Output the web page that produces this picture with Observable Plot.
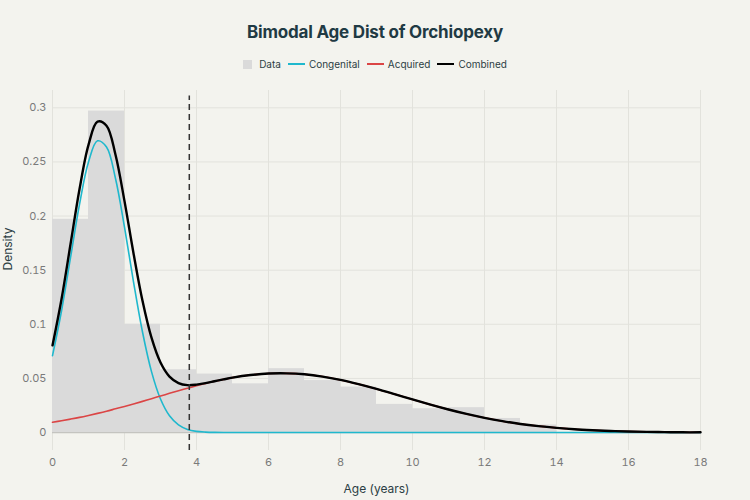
<!DOCTYPE html>
<html>
<head>
<meta charset="utf-8">
<script src="https://cdn.jsdelivr.net/npm/d3@7"></script>
<script src="https://cdn.jsdelivr.net/npm/@observablehq/plot@0.6"></script>
<style>
  html, body { margin: 0; padding: 0; background: #f3f3ee; }
  body { width: 750px; height: 500px; overflow: hidden; font-family: Inter, "Open Sans", sans-serif; }
  #header { position: relative; height: 80px; }
  #title { position: absolute; top: 22px; left: 0; width: 750px; text-align: center;
           font-size: 17px; font-weight: 700; color: #1f3a44; letter-spacing: -0.2px; }
  #legend { position: absolute; top: 58px; left: 0; width: 750px; display: flex; justify-content: center;
            align-items: center; font-size: 10px; color: #2c3e44; }
  .item { display: flex; align-items: center; margin: 0 3.5px; }
  .swatch { width: 9px; height: 9px; background: #dadada; margin-right: 7px; }
  .line { width: 17px; height: 0; margin-right: 4px; }
</style>
</head>
<body>
<div id="header">
  <div id="title">Bimodal Age Dist of Orchiopexy</div>
  <div id="legend"></div>
</div>
<div id="chart"></div>
<script>
// Histogram of ages at orchiopexy (density per one-year bin)
const binStart   = [0, 1, 2, 3, 4, 5, 6, 7, 8, 9, 10, 11, 12, 13];
const binEnd     = [1, 2, 3, 4, 5, 6, 7, 8, 9, 10, 11, 12, 13, 14];
const binDensity = [0.197, 0.297, 0.100, 0.058, 0.054, 0.045, 0.059, 0.048, 0.042, 0.026, 0.022, 0.023, 0.013, 0.007];

// Fitted component curves, sampled along age
const ages = [0, 0.25, 0.5, 0.75, 1, 1.25, 1.5, 1.75, 2, 2.25, 2.5, 2.75, 3, 3.25, 3.5, 3.75, 4, 4.25, 4.5, 4.75, 5,
              5.5, 6, 6.5, 7, 7.5, 8, 8.5, 9, 9.5, 10, 10.5, 11, 11.5, 12, 12.5, 13, 13.5, 14, 14.5, 15, 15.5, 16, 16.5, 17, 17.5, 18];
const congenital = [0.0710, 0.1123, 0.1615, 0.2108, 0.2500, 0.2695, 0.2638, 0.2347, 0.1897, 0.1393, 0.0929, 0.0563, 0.0310, 0.0155, 0.0071, 0.0029, 0.0011, 0.0004, 0.0001, 0, 0,
                    0, 0, 0, 0, 0, 0, 0, 0, 0, 0, 0, 0, 0, 0, 0, 0, 0, 0, 0, 0, 0, 0, 0, 0, 0, 0];
const acquired = [0.0095, 0.0109, 0.0124, 0.0140, 0.0158, 0.0177, 0.0197, 0.0219, 0.0241, 0.0264, 0.0288, 0.0313, 0.0337, 0.0362, 0.0386, 0.0409, 0.0432, 0.0453, 0.0473, 0.0491, 0.0507,
                  0.0531, 0.0545, 0.0547, 0.0538, 0.0517, 0.0486, 0.0447, 0.0403, 0.0355, 0.0306, 0.0258, 0.0213, 0.0172, 0.0136, 0.0105, 0.0079, 0.0059, 0.0043, 0.0030, 0.0021, 0.0014, 0.0009, 0.0006, 0.0004, 0.0002, 0.0002];
const combined = [0.0805, 0.1232, 0.1739, 0.2248, 0.2658, 0.2872, 0.2835, 0.2566, 0.2138, 0.1657, 0.1217, 0.0876, 0.0647, 0.0517, 0.0457, 0.0438, 0.0443, 0.0457, 0.0474, 0.0491, 0.0507,
                  0.0531, 0.0545, 0.0547, 0.0538, 0.0517, 0.0486, 0.0447, 0.0403, 0.0355, 0.0306, 0.0258, 0.0213, 0.0172, 0.0136, 0.0105, 0.0079, 0.0059, 0.0043, 0.0030, 0.0021, 0.0014, 0.0009, 0.0006, 0.0004, 0.0002, 0.0002];

// Age separating the two modes
const cutoffAge = 3.8;

const xTicks = [0, 2, 4, 6, 8, 10, 12, 14, 16, 18];
const yTicks = [0, 0.05, 0.1, 0.15, 0.2, 0.25, 0.3];

const seriesNames  = ["Data", "Congenital", "Acquired", "Combined"];
const seriesColors = ["#dadada", "#1fb8cd", "#db4545", "#000000"];

const bins = binStart.map((s, i) => ({x1: s, x2: binEnd[i], y: binDensity[i]}));
const curve = key => ages.map((a, i) => ({age: a, v: key[i]}));

// Legend
const legend = document.getElementById("legend");
seriesNames.forEach((name, i) => {
  const item = document.createElement("div");
  item.className = "item";
  const mark = document.createElement("div");
  if (i === 0) { mark.className = "swatch"; mark.style.background = seriesColors[i]; }
  else { mark.className = "line"; mark.style.borderTop = (i === 3 ? "2.5px" : "2px") + " solid " + seriesColors[i]; }
  item.appendChild(mark);
  const label = document.createElement("span");
  label.textContent = name;
  item.appendChild(label);
  legend.appendChild(item);
});

const chart = Plot.plot({
  width: 750,
  height: 420,
  marginTop: 10,
  marginBottom: 50,
  marginLeft: 52,
  marginRight: 50,
  style: {background: "transparent", fontFamily: "Inter, 'Open Sans', sans-serif", fontSize: "11px", color: "#7a7a7a"},
  x: {domain: [0, 18], ticks: xTicks, tickSize: 0, tickPadding: 8, label: null},
  y: {domain: [-0.0166, 0.316], ticks: yTicks, tickSize: 0, tickPadding: 6, tickFormat: d => String(d), label: null},
  marks: [
    Plot.ruleX(xTicks, {stroke: "#e2e2dc", strokeWidth: 1}),
    Plot.ruleY(yTicks.filter(t => t > 0), {x1: 0, x2: 18, stroke: "#e2e2dc", strokeWidth: 1}),
    Plot.rectY(bins, {x1: "x1", x2: "x2", y1: 0, y2: "y", fill: seriesColors[0]}),
    Plot.ruleY([0], {x1: 0, x2: 18, stroke: "#c4c4c0", strokeWidth: 1.2}),
    Plot.line(curve(congenital), {x: "age", y: "v", stroke: seriesColors[1], strokeWidth: 1.6, curve: "catmull-rom"}),
    Plot.line(curve(acquired), {x: "age", y: "v", stroke: seriesColors[2], strokeWidth: 1.6, curve: "catmull-rom"}),
    Plot.line(curve(combined), {x: "age", y: "v", stroke: seriesColors[3], strokeWidth: 2.4, curve: "catmull-rom"}),
    Plot.ruleX([cutoffAge], {y1: -0.0166, y2: 0.311, stroke: "#333333", strokeWidth: 1.5, strokeDasharray: "6,4"}),
    Plot.axisX({ticks: xTicks, tickSize: 0, tickPadding: 8, fill: "#7a7a7a", label: null}),
    Plot.axisY({ticks: yTicks, tickSize: 0, tickPadding: 6, tickFormat: d => String(d), fill: "#7a7a7a", label: null}),
    Plot.text(["Age (years)"], {frameAnchor: "bottom", dy: 42, fill: "#2c3e44", fontSize: 12}),
    Plot.text(["Density"], {frameAnchor: "left", dx: -44, rotate: -90, fill: "#2c3e44", fontSize: 12})
  ]
});
document.getElementById("chart").appendChild(chart);
</script>
</body>
</html>
